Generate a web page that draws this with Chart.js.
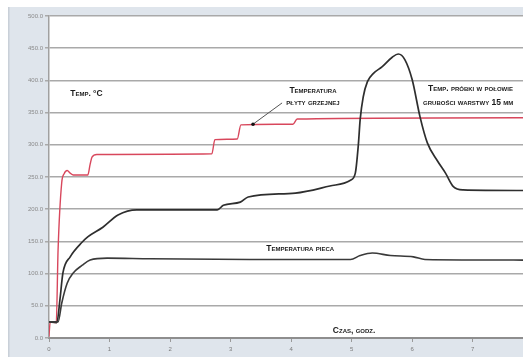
<!DOCTYPE html>
<html>
<head>
<meta charset="utf-8">
<script src="https://cdn.jsdelivr.net/npm/chart.js"></script>
<style>
    html, body { margin: 0; padding: 0; background: #fff; }
    canvas { display: block; }
</style>
</head>
<body>
<canvas id="chart" width="523" height="357"></canvas>
<script>
(function() {

    'use strict';

    // Temperatura plyty grzejnej (red)
    var plateTime = [0, 0.02, 0.12, 0.15, 0.21, 0.25, 0.30, 0.35, 0.40, 0.64, 0.68, 0.71, 0.79, 2.69, 2.74, 3.11, 3.17, 4.03, 4.10, 7.83];
    var plateTemp = [3, 25, 24, 137, 241, 255, 260, 256, 253, 253, 270, 281, 285, 286, 308, 309, 331, 332, 340, 342];

    // Temp. probki w polowie grubosci warstwy 15 mm
    var sampleTime = [0, 0.13, 0.18, 0.23, 0.35, 0.55, 0.64, 0.89, 1.14, 1.45, 2.78, 2.88, 3.16, 3.29, 4.07, 4.64, 4.98, 5.06, 5.11, 5.14, 5.19, 5.26, 5.36, 5.50, 5.67, 5.77, 5.88, 6.00, 6.13, 6.25, 6.41, 6.55, 6.68, 6.84, 7.83];
    var sampleTemp = [25, 24, 59, 101, 126, 149, 157, 172, 191, 199, 199, 206, 211, 219, 225, 236, 245, 256, 300, 339, 374, 398, 411, 421, 436, 441, 432, 401, 343, 303, 276, 256, 235, 230, 229];

    // Temperatura pieca
    var furnaceTime = [0, 0.15, 0.21, 0.30, 0.40, 0.55, 0.68, 0.96, 1.67, 3.32, 4.98, 5.14, 5.34, 5.64, 6.02, 6.21, 7.83];
    var furnaceTemp = [25, 25, 54, 85, 101, 113, 121, 124, 123, 122, 122, 128, 132, 128, 126, 122, 121];

    var yTicks = [0, 50, 100, 150, 200, 250, 300, 350, 400, 450, 500];
    var xTicks = [0, 1, 2, 3, 4, 5, 6, 7];

    // text labels: [text, hours, temp, align]
    var labels = [
        ['Temp. °C', 0.35, 379, 'left'],
        ['Temperatura', 4.36, 384, 'center'],
        ['płyty grzejnej', 4.36, 366, 'center'],
        ['Temp. próbki w połowie', 6.26, 387, 'left'],
        ['grubości warstwy 15 mm', 6.18, 366, 'left'],
        ['Temperatura pieca', 4.15, 138, 'center'],
        ['Czas, godz.', 5.04, 11, 'center']
    ];
    var pointer = [[3.37, 332], [3.85, 365]];

    function toPoints(xs, ys) {
        return xs.map(function(x, i) { return { x: x, y: ys[i] }; });
    }

    var frame = {
        id: 'frame',
        beforeDraw: function(chart) {
            var ctx = chart.ctx, a = chart.chartArea;
            ctx.save();
            ctx.fillStyle = '#ffffff';
            ctx.fillRect(0, 0, chart.width, chart.height);
            ctx.fillStyle = '#dfe5ec';
            ctx.fillRect(8, 7, chart.width - 8, chart.height - 7);
            ctx.fillStyle = '#c9d0d8';
            ctx.fillRect(8, 7, 1.5, chart.height - 7);
            ctx.fillStyle = '#ffffff';
            ctx.fillRect(a.left, a.top, a.right - a.left, a.bottom - a.top);
            ctx.restore();
        },
        afterDatasetsDraw: function(chart) {
            var ctx = chart.ctx;
            var xs = chart.scales.x, ys = chart.scales.y;
            ctx.save();
            ctx.fillStyle = '#1a1a1a';
            ctx.font = 'small-caps bold 8.5px "Liberation Sans", Arial, sans-serif';
            if ('fontVariantCaps' in ctx) ctx.fontVariantCaps = 'small-caps';
            ctx.textBaseline = 'middle';
            labels.forEach(function(l) {
                ctx.textAlign = l[3];
                ctx.fillText(l[0], xs.getPixelForValue(l[1]), ys.getPixelForValue(l[2]));
            });
            // pointer to the plate line
            var p0x = xs.getPixelForValue(pointer[0][0]), p0y = ys.getPixelForValue(pointer[0][1]);
            var p1x = xs.getPixelForValue(pointer[1][0]), p1y = ys.getPixelForValue(pointer[1][1]);
            ctx.strokeStyle = '#555';
            ctx.lineWidth = 1;
            ctx.beginPath();
            ctx.moveTo(p0x, p0y);
            ctx.lineTo(p1x, p1y);
            ctx.stroke();
            ctx.fillStyle = '#111';
            ctx.beginPath();
            ctx.arc(p0x, p0y, 1.8, 0, Math.PI * 2);
            ctx.fill();
            ctx.restore();
        }
    };

    var options = {
        type: 'line',
        data: {
            datasets: [{
                label: 'Temperatura pieca',
                data: toPoints(furnaceTime, furnaceTemp),
                borderColor: '#3a3a3a',
                borderWidth: 1.6
            }, {
                label: 'Temp. próbki w połowie grubości warstwy 15 mm',
                data: toPoints(sampleTime, sampleTemp),
                borderColor: '#2e2e2e',
                borderWidth: 1.7
            }, {
                label: 'Temperatura płyty grzejnej',
                data: toPoints(plateTime, plateTemp),
                borderColor: '#d8475c',
                borderWidth: 1.4
            }]
        },
        options: {
            responsive: false,
            animation: false,
            events: [],
            layout: {
                padding: { left: 0, top: 16, right: 0, bottom: 0 }
            },
            elements: {
                point: { radius: 0 },
                line: { cubicInterpolationMode: 'monotone', borderCapStyle: 'round', borderJoinStyle: 'round' }
            },
            plugins: {
                legend: { display: false },
                tooltip: { enabled: false }
            },
            scales: {
                x: {
                    type: 'linear',
                    min: 0,
                    max: 7.83,
                    afterFit: function(scale) { scale.height = 19; },
                    afterBuildTicks: function(scale) {
                        scale.ticks = xTicks.map(function(v) { return { value: v }; });
                    },
                    grid: {
                        drawOnChartArea: false,
                        color: '#9a9a9a',
                        tickLength: 4
                    },
                    border: { color: '#8e8e8e', width: 2 },
                    ticks: {
                        color: '#7c7c7c',
                        padding: 4,
                        font: { size: 6, family: 'Liberation Sans' }
                    }
                },
                y: {
                    min: 0,
                    max: 500,
                    afterFit: function(scale) { scale.width = 49; },
                    afterBuildTicks: function(scale) {
                        scale.ticks = yTicks.map(function(v) { return { value: v }; });
                    },
                    grid: {
                        color: '#a9a9a9',
                        lineWidth: 1.5,
                        tickLength: 4
                    },
                    border: { color: '#a0a0a0', width: 1.5 },
                    ticks: {
                        color: '#8a8a8a',
                        padding: 2,
                        font: { size: 6, family: 'Liberation Sans' },
                        callback: function(v) { return Number(v).toFixed(1); }
                    }
                }
            }
        },
        plugins: [frame]
    };

    var chart = new Chart(document.getElementById('chart'), options);

})();
</script>
</body>
</html>
